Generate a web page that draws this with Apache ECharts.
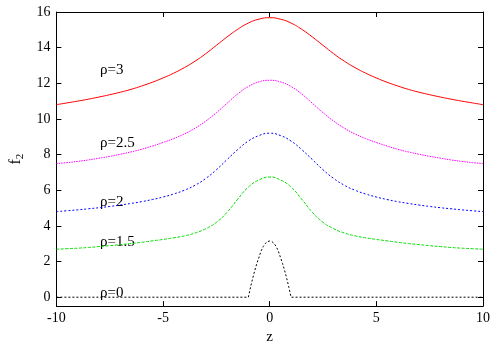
<!DOCTYPE html>
<html><head><meta charset="utf-8">
<script src="https://cdn.jsdelivr.net/npm/echarts@6/dist/echarts.min.js"></script>
<style>html,body{margin:0;padding:0;background:#fff}#c{width:500px;height:350px}</style>
</head><body><div id="c"></div>
<script>
const zVals = [-10,-9.5,-9,-8.5,-8,-7.5,-7,-6.5,-6,-5.5,-5,-4.5,-4,-3.5,-3,-2.5,-2,-1.5,-1,-0.5,0,
               0.5,1,1.5,2,2.5,3,3.5,4,4.5,5,5.5,6,6.5,7,7.5,8,8.5,9,9.5,10];
const rho3  = [10.8,10.9,11.0,11.11,11.23,11.36,11.5,11.66,11.85,12.06,12.3,12.57,12.88,13.24,13.66,14.13,14.6,15.03,15.38,15.6,15.68,
               15.6,15.38,15.03,14.6,14.13,13.66,13.24,12.88,12.57,12.3,12.06,11.85,11.66,11.5,11.36,11.23,11.11,11.0,10.9,10.8];
const rho25 = [7.5,7.55,7.62,7.7,7.8,7.9,8.02,8.15,8.3,8.48,8.68,8.9,9.16,9.48,9.88,10.35,10.88,11.4,11.82,12.08,12.17,
               12.08,11.82,11.4,10.88,10.35,9.88,9.48,9.16,8.9,8.68,8.48,8.3,8.15,8.02,7.9,7.8,7.7,7.62,7.55,7.5];
const rho2  = [4.8,4.85,4.9,4.96,5.02,5.09,5.17,5.26,5.36,5.48,5.62,5.79,6.0,6.28,6.66,7.15,7.72,8.28,8.76,9.07,9.2,
               9.07,8.76,8.28,7.72,7.15,6.66,6.28,6.0,5.79,5.62,5.48,5.36,5.26,5.17,5.09,5.02,4.96,4.9,4.85,4.8];
const rho15 = [2.69,2.72,2.75,2.79,2.84,2.89,2.95,3.01,3.08,3.16,3.24,3.33,3.44,3.6,3.84,4.2,4.76,5.5,6.18,6.58,6.74,
               6.58,6.18,5.5,4.76,4.2,3.84,3.6,3.44,3.33,3.24,3.16,3.08,3.01,2.95,2.89,2.84,2.79,2.75,2.72,2.69];
const zRho0 = [-10,-1,-0.9,-0.8,-0.7,-0.6,-0.5,-0.4,-0.3,-0.2,-0.1,0,0.1,0.2,0.3,0.4,0.5,0.6,0.7,0.8,0.9,1,10];
const rho0  = [0,0,0.55,1.05,1.5,1.9,2.25,2.6,2.85,3.02,3.12,3.15,3.12,3.02,2.85,2.6,2.25,1.9,1.5,1.05,0.55,0,0];
const yTicks = [0,2,4,6,8,10,12,14,16];
const xTicks = [-10,-5,0,5,10];
const seriesNames = ['ρ=3','ρ=2.5','ρ=2','ρ=1.5','ρ=0'];

const FONT = '"Liberation Serif", "DejaVu Serif", serif';
const pair = (xs, ys) => xs.map((x, i) => [x, ys[i]]);

const chart = echarts.init(document.getElementById('c'), null, {renderer: 'canvas'});
const axisCommon = {
  axisLine: {show: true, onZero: false, lineStyle: {color: '#000', width: 1}},
  splitLine: {show: false},
};
function mkSeries(name, data, color, type, smooth) {
  return {
    name, type: 'line', data, xAxisIndex: 0, yAxisIndex: 0,
    showSymbol: false, symbol: 'none', smooth: smooth,
    lineStyle: {color, width: 1, type},
    silent: true, animation: false
  };
}
const option = {
  animation: false,
  grid: {left: 44, right: 17, top: 12, bottom: 30, containLabel: false},
  xAxis: [
    Object.assign({}, axisCommon, {
      type: 'value', min: -10, max: 10, interval: 5, position: 'bottom',
      axisTick: {show: true, inside: true, length: 5, lineStyle: {color: '#000'}},
      axisLabel: {show: true, color: '#000', fontFamily: FONT, fontSize: 14, margin: 5,
                  customValues: xTicks},
      name: 'z', nameLocation: 'middle', nameGap: 17,
      nameTextStyle: {fontFamily: FONT, fontSize: 15, color: '#000'}
    }),
    Object.assign({}, axisCommon, {
      type: 'value', min: -10, max: 10, interval: 5, position: 'top',
      axisTick: {show: true, inside: true, length: 5, lineStyle: {color: '#000'}},
      axisLabel: {show: false}
    })
  ],
  yAxis: [
    Object.assign({}, axisCommon, {
      type: 'value', min: -0.5, max: 16, position: 'left',
      axisTick: {show: true, inside: true, length: 5, customValues: yTicks, lineStyle: {color: '#000'}},
      axisLabel: {show: true, color: '#000', fontFamily: FONT, fontSize: 14, margin: 6,
                  customValues: yTicks},
      name: '{m|f}{s|2}', nameLocation: 'middle', nameGap: 28, nameRotate: 90,
      nameTextStyle: {fontFamily: FONT, fontSize: 15, color: '#000',
        rich: {m: {fontFamily: FONT, fontSize: 16, color: '#000'},
               s: {fontFamily: FONT, fontSize: 11, color: '#000', verticalAlign: 'bottom', padding: [8, 0, 0, 0]}}}
    }),
    Object.assign({}, axisCommon, {
      type: 'value', min: -0.5, max: 16, position: 'right',
      axisTick: {show: true, inside: true, length: 5, customValues: yTicks, lineStyle: {color: '#000'}},
      axisLabel: {show: false}
    })
  ],
  series: [
    mkSeries(seriesNames[0], pair(zVals, rho3), '#ff0000', 'solid', 0.5),
    mkSeries(seriesNames[1], pair(zVals, rho25), '#ff00ff', [1.5, 1], 0.5),
    mkSeries(seriesNames[2], pair(zVals, rho2), '#0000ff', [2, 2], 0.5),
    mkSeries(seriesNames[3], pair(zVals, rho15), '#00dd00', [3, 1.5], 0.5),
    mkSeries(seriesNames[4], pair(zRho0, rho0), '#000000', [2, 2], false)
  ],
  graphic: [
    {type: 'text', x: 100, y: 70.5, style: {text: seriesNames[0], font: '15px ' + FONT, fill: '#000', verticalAlign: 'middle'}},
    {type: 'text', x: 100, y: 143, style: {text: seriesNames[1], font: '15px ' + FONT, fill: '#000', verticalAlign: 'middle'}},
    {type: 'text', x: 100, y: 202, style: {text: seriesNames[2], font: '15px ' + FONT, fill: '#000', verticalAlign: 'middle'}},
    {type: 'text', x: 100, y: 242, style: {text: seriesNames[3], font: '15px ' + FONT, fill: '#000', verticalAlign: 'middle'}},
    {type: 'text', x: 100, y: 293, style: {text: seriesNames[4], font: '15px ' + FONT, fill: '#000', verticalAlign: 'middle'}}
  ]
};
chart.setOption(option);
</script>
</body></html>
